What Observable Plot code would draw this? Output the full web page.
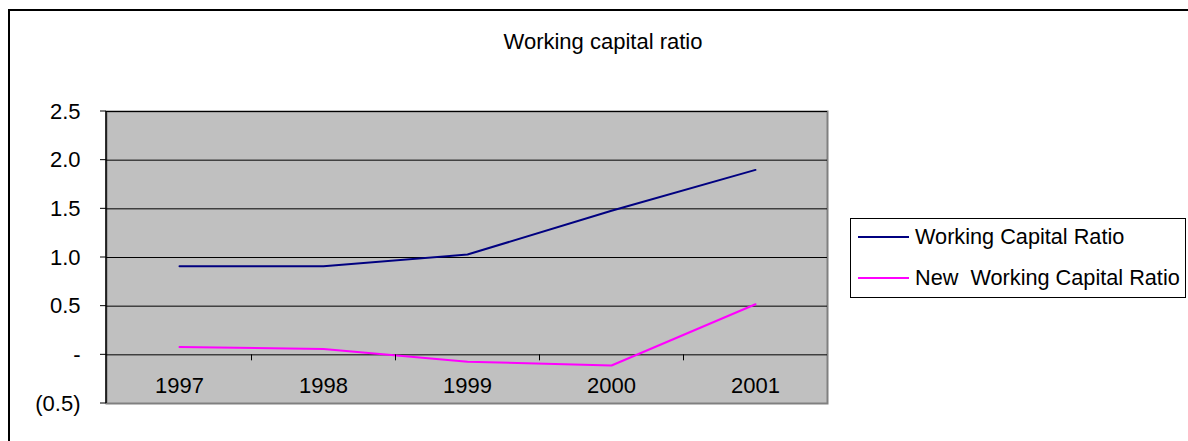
<!DOCTYPE html>
<html>
<head>
<meta charset="utf-8">
<script src="https://cdn.jsdelivr.net/npm/d3@7"></script>
<script src="https://cdn.jsdelivr.net/npm/@observablehq/plot@0.6"></script>
<style>
  html, body { margin: 0; padding: 0; background: #fff; }
  #wrap { position: relative; width: 1188px; height: 441px; overflow: hidden;
          font-family: "Liberation Sans", Arial, sans-serif; }
  #border { position: absolute; left: 8px; top: 9px; width: 1200px; height: 460px;
            border: 2px solid #000; box-sizing: border-box; }
  #chart { position: absolute; left: 0; top: 0; }
  #legend { position: absolute; left: 850px; top: 218px; width: 336px; height: 80px;
            border: 1px solid #000; box-sizing: border-box; background: #fff; font-size: 21.7px; }
  .row { position: absolute; left: 7px; display: flex; align-items: center; white-space: pre; line-height: 24px; }
  .swatch { width: 51px; height: 0; border-top: 2px solid; margin-right: 6px; }
</style>
</head>
<body>
<div id="wrap">
  <div id="border"></div>
  <div id="chart"></div>
  <div id="legend"></div>
</div>
<script>
// Fiscal years on the category axis
const years = ["1997", "1998", "1999", "2000", "2001"];
// Ratio values per year
const workingCapitalRatio = [0.91, 0.91, 1.03, 1.48, 1.90];
const newWorkingCapitalRatio = [0.08, 0.06, -0.07, -0.11, 0.52];
// Series names and colours
const seriesNames = ["Working Capital Ratio", "New  Working Capital Ratio"];
const seriesColors = ["#000080", "#FF00FF"];
// Value-axis ticks and their labels
const yTicks = [-0.5, 0, 0.5, 1.0, 1.5, 2.0, 2.5];
const yTickLabels = ["(0.5)", "-", "0.5", "1.0", "1.5", "2.0", "2.5"];
const chartTitle = "Working capital ratio";

const rows = [];
years.forEach((y, i) => {
  rows.push({year: y, value: workingCapitalRatio[i], series: seriesNames[0]});
  rows.push({year: y, value: newWorkingCapitalRatio[i], series: seriesNames[1]});
});
const gridLines = yTicks.filter(v => v !== 0 && v !== -0.5);

const chart = Plot.plot({
  width: 1188,
  height: 441,
  marginLeft: 106,
  marginRight: 361,
  marginTop: 111,
  marginBottom: 38,
  style: {fontFamily: "'Liberation Sans', Arial, sans-serif", fontSize: "22px", background: "transparent"},
  x: {type: "band", domain: years, padding: 0, axis: null},
  y: {domain: [-0.5, 2.5], axis: null},
  color: {domain: seriesNames, range: seriesColors},
  marks: [
    Plot.frame({fill: "#C0C0C0", stroke: "#808080", strokeWidth: 2}),
    Plot.ruleY(gridLines, {stroke: "#000", strokeWidth: 1}),
    // value axis labels
    Plot.text(yTicks, {y: d => d, text: (d, i) => yTickLabels[i], frameAnchor: "left", dx: -26, textAnchor: "end", fill: "#000", fontSize: "22px"}),
    // category axis crossing at zero
    Plot.ruleY([0], {stroke: "#000", strokeWidth: 1}),
    Plot.text(years, {x: d => d, y: 0, dy: 31, text: d => d, fill: "#000", fontSize: "22px"}),
    Plot.line(rows, {x: "year", y: "value", z: "series", stroke: "series", strokeWidth: 2}),
    Plot.text([chartTitle], {frameAnchor: "top", dy: -78, dx: 136, text: d => d, fill: "#000", fontSize: "22px"})
  ]
});
document.getElementById("chart").appendChild(chart);

// Axis tick marks: category boundaries below the zero line, value ticks left of the axis
{
  const svg = d3.select(chart);
  const x = chart.scale("x"), y = chart.scale("y");
  const g = svg.append("g").attr("stroke", "#000");
  years.slice(1).forEach(yr => {
    const px = Math.round(x.apply(yr)) + 0.5;
    const py = y.apply(0);
    g.append("line").attr("x1", px).attr("x2", px).attr("y1", py).attr("y2", py + 6);
  });
  yTicks.forEach(v => {
    const py = y.apply(v);
    g.append("line").attr("x1", 100).attr("x2", 106).attr("y1", py).attr("y2", py);
  });
  g.append("line").attr("x1", 106).attr("x2", 106).attr("y1", y.apply(2.5)).attr("y2", y.apply(-0.5)).attr("stroke-width", 1.5);
}

// Legend box
const legend = document.getElementById("legend");
seriesNames.forEach((name, i) => {
  const row = document.createElement("div");
  row.className = "row";
  row.style.top = (i === 0 ? 6 : 47) + "px";
  const sw = document.createElement("span");
  sw.className = "swatch";
  sw.style.borderColor = seriesColors[i];
  row.appendChild(sw);
  row.appendChild(document.createTextNode(name));
  legend.appendChild(row);
});
</script>
</body>
</html>
